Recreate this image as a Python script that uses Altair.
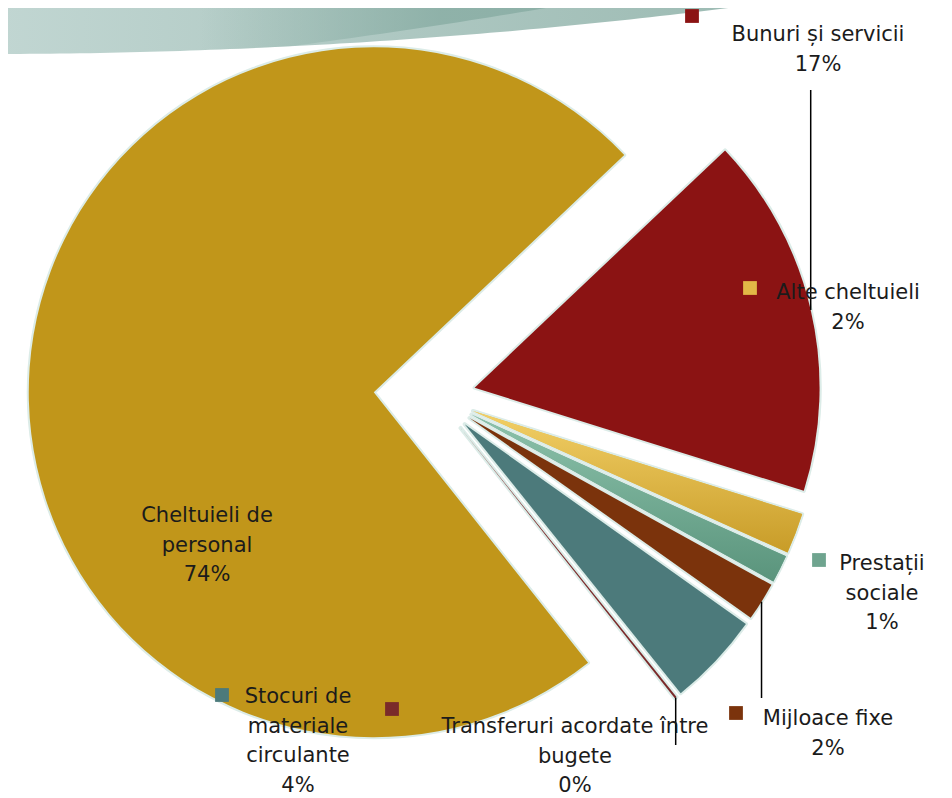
import math
import altair as alt
import pandas as pd

# ---------------- data ----------------
categories = [
    "Cheltuieli de personal",
    "Bunuri și servicii",
    "Alte cheltuieli",
    "Prestații sociale",
    "Mijloace fixe",
    "Stocuri de materiale circulante",
    "Transferuri acordate între bugete",
]
values = [73.6, 16.9, 1.9, 1.3, 1.8, 4.4, 0.1]
label_names = [
    "Cheltuieli de\npersonal",
    "Bunuri și servicii",
    "Alte cheltuieli",
    "Prestații\nsociale",
    "Mijloace fixe",
    "Stocuri de\nmateriale\ncirculante",
    "Transferuri acordate între\nbugete",
]
colors = ["#c1961a", "#8b1313", "#e2b846", "#6fa48f", "#7b330c", "#4c7a7b", "#7a2a2a"]

# ---------------- layout (page pixels) ----------------
label_x = [207, 818, 848, 882, 828, 298, 575]
label_y = [522, 41, 299, 570, 725, 703, 733]
square_x = [None, 692, 750, 819, 736, 222, 392]
square_y = [None, 16, 288, 560, 713, 695, 709]
leader_end_y = [None, 90, None, None, 698, None, 745]

MARGIN = 8
W, H = 936, 790
CX, CY = 435.6 - MARGIN, 396.7 - MARGIN
R = 345
START_DEG = 141.6
EXPLODE_MAIN = 62
EXPLODE_OTHER = 40
FONT = "Century Gothic, URW Gothic, DejaVu Sans, sans-serif"


def shift(v):
    return None if v is None else v - MARGIN


df = pd.DataFrame({
    "idx": list(range(len(categories))),
    "cat": categories,
    "value": values,
    "name": label_names,
    "lx": [shift(v) for v in label_x],
    "ly": [shift(v) for v in label_y],
    "sx": [shift(v) for v in square_x],
    "sy": [shift(v) for v in square_y],
    "ley": [shift(v) for v in leader_end_y],
})

start = math.radians(START_DEG)

base = (
    alt.Chart(df)
    .transform_joinaggregate(total="sum(value)")
    .transform_window(cum="sum(value)", sort=[alt.SortField("idx", order="ascending")], frame=[None, 0])
    .transform_calculate(t1=f"{start} + 2*PI*datum.cum/datum.total")
    .transform_calculate(t0="datum.t1 - 2*PI*datum.value/datum.total")
    .transform_calculate(tm="(datum.t0 + datum.t1)/2")
    .transform_calculate(ex=f"datum.cat === '{categories[0]}' ? {EXPLODE_MAIN} : {EXPLODE_OTHER}")
    .transform_calculate(cx=f"{CX} + datum.ex*sin(datum.tm)")
    .transform_calculate(cy=f"{CY} - datum.ex*cos(datum.tm)")
    .transform_calculate(mx=f"datum.cx + {R}*sin(datum.tm)")
    .transform_calculate(my=f"datum.cy - {R}*cos(datum.tm)")
    .transform_calculate(txt="datum.name + '\\n' + format(datum.value/datum.total, '.0%')")
)

pos = dict(
    x=alt.X("cx:Q", scale=None, axis=None),
    y=alt.Y("cy:Q", scale=None, axis=None),
    theta=alt.Theta("t0:Q", scale=None, stack=None),
    theta2=alt.Theta2("t1:Q"),
)

glow = base.mark_arc(radius=R, fill="#dcece8", stroke="#dcece8", strokeWidth=4, strokeJoin="round").encode(**pos)
main = base.mark_arc(radius=R).encode(
    **pos,
    color=alt.Color("cat:N", scale=alt.Scale(domain=categories, range=colors), legend=None),
)


def grad(c1, c2):
    return alt.LinearGradient(
        gradient="linear",
        stops=[alt.GradientStop(color=c1, offset=0), alt.GradientStop(color=c2, offset=1)],
        x1=0, y1=0, x2=0, y2=1,
    )


alte = base.transform_filter(f"datum.cat === '{categories[2]}'").mark_arc(
    radius=R, fill=grad("#f2cf66", "#c89c28")).encode(**pos)
prest = base.transform_filter(f"datum.cat === '{categories[3]}'").mark_arc(
    radius=R, fill=grad("#8cc2ab", "#5a947c")).encode(**pos)

leaders = base.transform_filter("isValid(datum.ley)").mark_rule(color="#000000", strokeWidth=1.5).encode(
    x=alt.X("mx:Q", scale=None, axis=None),
    y=alt.Y("my:Q", scale=None, axis=None),
    y2=alt.Y2("ley:Q"),
)

squares = base.transform_filter("isValid(datum.sx)").mark_square(size=190, opacity=1).encode(
    x=alt.X("sx:Q", scale=None, axis=None),
    y=alt.Y("sy:Q", scale=None, axis=None),
    color=alt.Color("cat:N", scale=alt.Scale(domain=categories, range=colors), legend=None),
)

texts = base.mark_text(
    lineBreak="\n", lineHeight=29.5, align="center", baseline="alphabetic",
    fontSize=21, font=FONT, color="#1b1b1b",
).encode(
    x=alt.X("lx:Q", scale=None, axis=None),
    y=alt.Y("ly:Q", scale=None, axis=None),
    text="txt:N",
)

# decorative header band (page background swoosh)
bx = list(range(0, 801, 10))
band_df = pd.DataFrame({
    "x": [v - MARGIN for v in bx],
    "y": [54 - 0.00206 * v - 8.39e-5 * v * v - MARGIN for v in bx],
    "top": [-MARGIN] * len(bx),
})
sx_ = list(range(200, 601, 10))
swoosh_df = pd.DataFrame({
    "x": [v - MARGIN for v in sx_],
    "y": [max(0.0, min(54 - 0.00206 * v - 8.39e-5 * v * v,
                       45 - 0.1331 * (v - 300) - 7.0e-5 * (v - 300) ** 2)) - MARGIN for v in sx_],
    "top": [-MARGIN] * len(sx_),
})
band = alt.Chart(band_df).mark_area(
    fill=alt.LinearGradient(
        gradient="linear",
        stops=[alt.GradientStop(color="#c1d6d2", offset=0), alt.GradientStop(color="#9ab9b1", offset=1)],
        x1=0, y1=0, x2=1, y2=0,
    )
).encode(x=alt.X("x:Q", scale=None, axis=None), y=alt.Y("y:Q", scale=None, axis=None), y2="top:Q")
swoosh = alt.Chart(swoosh_df).mark_area(
    fill=alt.LinearGradient(
        gradient="linear",
        stops=[alt.GradientStop(color="rgba(138,174,165,0)", offset=0),
               alt.GradientStop(color="rgba(138,174,165,0.85)", offset=0.6),
               alt.GradientStop(color="rgba(138,174,165,0.9)", offset=1)],
        x1=0, y1=0, x2=1, y2=0,
    )
).encode(x=alt.X("x:Q", scale=None, axis=None), y=alt.Y("y:Q", scale=None, axis=None), y2="top:Q")

chart = (
    alt.layer(band, swoosh, glow, main, alte, prest, leaders, squares, texts)
    .properties(width=W, height=H, padding=0, autosize="none")
    .configure_view(stroke=None)
)

chart.save("out.html", embed_options={"renderer": "svg", "actions": False})
